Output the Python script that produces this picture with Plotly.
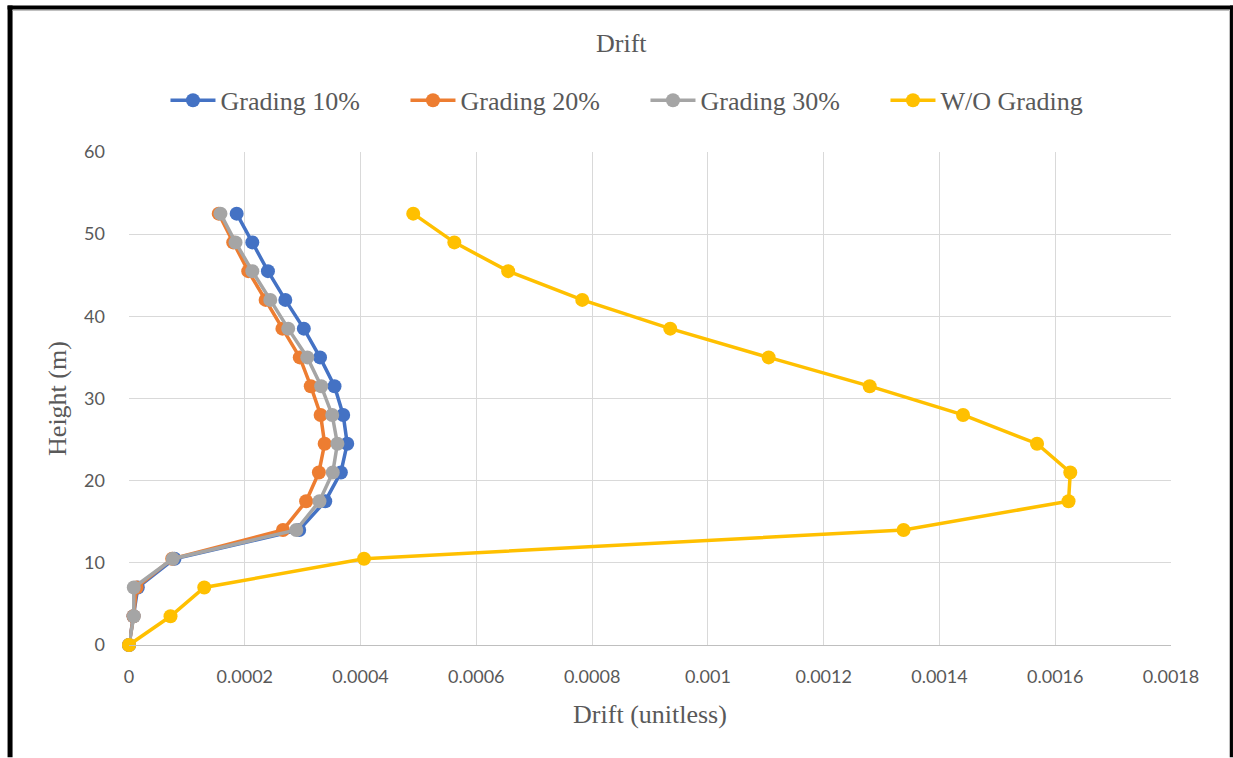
import plotly.graph_objects as go

heights = [0, 3.5, 7, 10.5, 14, 17.5, 21, 24.5, 28, 31.5, 35, 38.5, 42, 45.5, 49, 52.5]

grading_10 = [0, 0.0000078, 0.0000152, 0.0000786, 0.000294, 0.000339, 0.000366, 0.000377,
              0.000370, 0.000355, 0.000330, 0.000302, 0.000270, 0.000240, 0.000213, 0.000186]
grading_20 = [0, 0.0000078, 0.000013, 0.0000746, 0.000266, 0.000306, 0.000328, 0.000338,
              0.000331, 0.000314, 0.000295, 0.000265, 0.000236, 0.000206, 0.000180, 0.000155]
grading_30 = [0, 0.0000083, 0.0000083, 0.0000757, 0.000289, 0.000329, 0.000352, 0.000360,
              0.000351, 0.000332, 0.000308, 0.000275, 0.000244, 0.000213, 0.000184, 0.000158]
wo_grading = [0, 0.0000717, 0.000130, 0.000406, 0.001338, 0.001623, 0.001626, 0.0015686,
              0.0014408, 0.0012795, 0.001105, 0.000935, 0.000783, 0.000655, 0.000562, 0.000491]

series_names = ["Grading 10%", "Grading 20%", "Grading 30%", "W/O Grading"]
series_values = [grading_10, grading_20, grading_30, wo_grading]
series_colors = ["#4472C4", "#ED7D31", "#A5A5A5", "#FFC000"]

x_tickvals = [0, 0.0002, 0.0004, 0.0006, 0.0008, 0.001, 0.0012, 0.0014, 0.0016, 0.0018]
x_ticktext = ["0", "0.0002", "0.0004", "0.0006", "0.0008", "0.001", "0.0012", "0.0014", "0.0016", "0.0018"]
y_tickvals = [0, 10, 20, 30, 40, 50, 60]

W, H = 1233, 758
L, R, T, B = 128.5, 1171.0, 151.7, 645.5


def xp(px):
    return (px - L) / (R - L)


def yp(py):
    return (B - py) / (B - T)


fig = go.Figure()
for name, vals, col in zip(series_names, series_values, series_colors):
    fig.add_trace(go.Scatter(
        x=vals, y=heights, name=name, mode="lines+markers",
        line=dict(color=col, width=3.5),
        marker=dict(color=col, size=14),
        cliponaxis=False,
    ))

serif = "Liberation Serif, Times New Roman, serif"
sans = "Lato, Liberation Sans, sans-serif"
txt = "#595959"

fig.update_layout(
    width=W, height=H,
    margin=dict(l=L, r=W - R, t=T, b=H - B, autoexpand=False),
    paper_bgcolor="white", plot_bgcolor="white",
    title=dict(text="Drift", x=xp(621), xanchor="center", xref="paper",
               y=1 - 43 / H, yanchor="middle", yref="container",
               font=dict(family=serif, size=26, color=txt)),
    legend=dict(orientation="h", x=xp(165), xanchor="left", y=yp(100), yanchor="middle",
                font=dict(family=serif, size=26, color=txt),
                entrywidth=180, entrywidthmode="pixels", itemwidth=45,
                bgcolor="rgba(0,0,0,0)", tracegroupgap=0),
    xaxis=dict(range=[0, 0.0018], tickvals=x_tickvals, ticktext=x_ticktext,
               showgrid=True, gridcolor="#D9D9D9", gridwidth=1,
               showline=True, linecolor="#BFBFBF", linewidth=1, mirror=False,
               zeroline=False, ticks="", ticklabelstandoff=15,
               tickfont=dict(family=sans, size=18, color=txt),
               title=dict(text="Drift (unitless)", standoff=19,
                          font=dict(family=serif, size=26, color=txt))),
    yaxis=dict(range=[0, 60], tickvals=y_tickvals,
               showgrid=True, gridcolor="#D9D9D9", gridwidth=1,
               showline=False, zeroline=False, ticks="", ticklabelstandoff=23,
               tickfont=dict(family=sans, size=18, color=txt),
               title=dict(text="Height (m)", standoff=10,
                          font=dict(family=serif, size=26, color=txt))),
)

# outer frame of the chart image
frame = [
    (xp(7), yp(7), xp(1233), yp(7), 4, "black"),
    (xp(9.5), yp(5), xp(9.5), yp(758), 5, "black"),
    (xp(1231.5), yp(5), xp(1231.5), yp(758), 3, "black"),
    (xp(12), yp(10), xp(1229.5), yp(10), 1, "#BFBFBF"),
    (xp(1229.5), yp(10), xp(1229.5), yp(758), 1, "#BFBFBF"),
]
for x0, y0, x1, y1, w, c in frame:
    fig.add_shape(type="line", xref="paper", yref="paper", x0=x0, y0=y0, x1=x1, y1=y1,
                  line=dict(color=c, width=w), layer="above")

fig.write_html("out.html")
